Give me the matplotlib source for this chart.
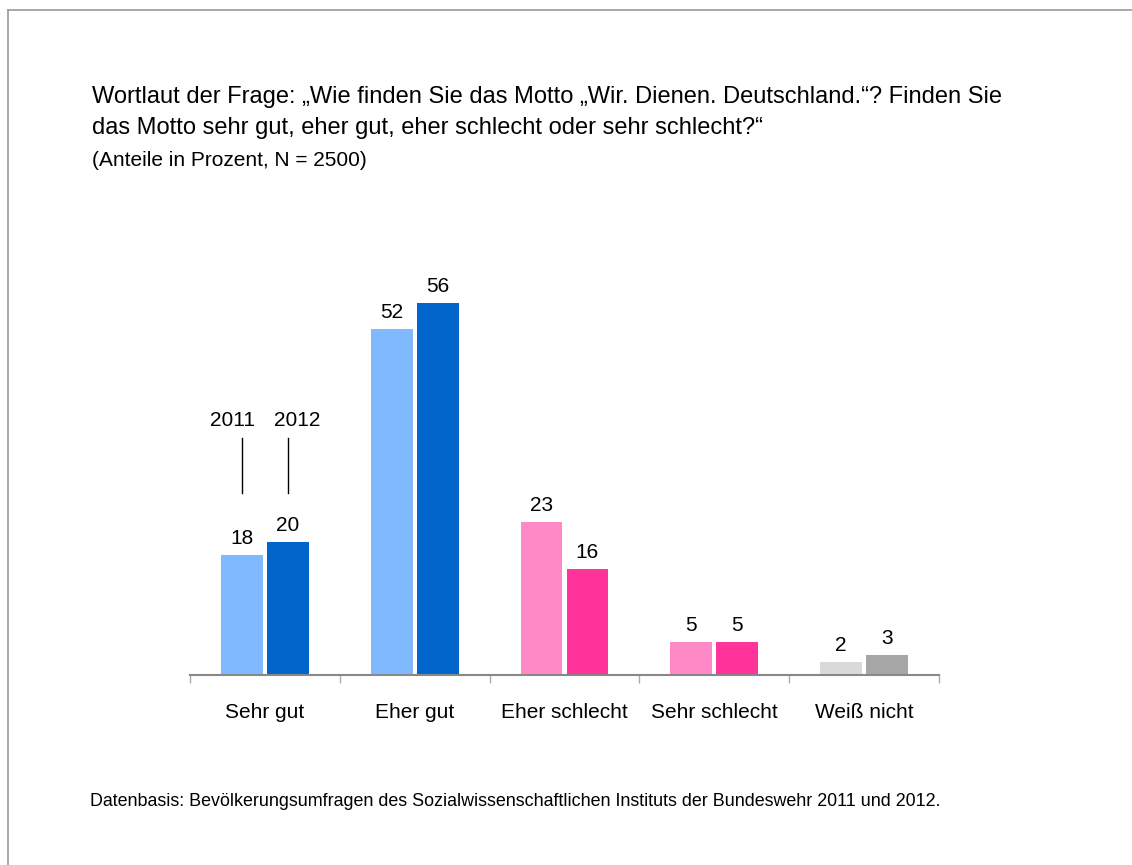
import numpy as np
import matplotlib.pyplot as plt
from matplotlib.lines import Line2D

plt.rcParams['font.family'] = ['Liberation Sans', 'DejaVu Sans']

kategorien = ["Sehr gut", "Eher gut", "Eher schlecht", "Sehr schlecht", "Weiß nicht"]
werte_2011 = [18, 52, 23, 5, 2]
werte_2012 = [20, 56, 16, 5, 3]
farben_2011 = ["#80B9FF", "#80B9FF", "#FF88C6", "#FF88C6", "#D9D9D9"]
farben_2012 = ["#0066CC", "#0066CC", "#FF3399", "#FF3399", "#A6A6A6"]
jahre = ["2011", "2012"]

fig = plt.figure(figsize=(11.32, 8.65), dpi=100)
W, H = 1132, 865
ax = fig.add_axes([190 / W, 1 - 675 / H, (939 - 190) / W, 399 / H])

x = np.arange(len(kategorien))
bw = 0.28
gap = 0.027
off = (bw + gap) / 2
b1 = ax.bar(x - off, werte_2011, width=bw, color=farben_2011)
b2 = ax.bar(x + off, werte_2012, width=bw, color=farben_2012)
for bars, vals in ((b1, werte_2011), (b2, werte_2012)):
    for r, v in zip(bars, vals):
        ax.annotate(str(v), (r.get_x() + r.get_width() / 2, v), xytext=(0, 5),
                    textcoords='offset points', ha='center', va='bottom', fontsize=15)

ax.set_xlim(-0.5, len(kategorien) - 0.5)
ax.set_ylim(0, 60)
for s in ['top', 'right', 'left']:
    ax.spines[s].set_visible(False)
ax.spines['bottom'].set_color('#888888')
ax.spines['bottom'].set_linewidth(1.5)
ax.set_yticks([])
ax.set_xticks(np.arange(-0.5, len(kategorien)), minor=False)
ax.set_xticklabels([])
ax.tick_params(axis='x', length=6, color='#AAAAAA', width=1)
for i, k in enumerate(kategorien):
    ax.text(i, -5.7, k, ha='center', va='center', fontsize=15)

# Jahr-Beschriftung an der ersten Gruppe
for xpos, jahr, dx in zip([-off, off], jahre, [-0.062, 0.064]):
    ax.text(xpos + dx, 38.3, jahr, ha='center', va='center', fontsize=15)
    ax.plot([xpos, xpos], [27.4, 35.6], color='black', lw=1)

fig.text(92 / W, 1 - 97 / H,
         "Wortlaut der Frage: „Wie finden Sie das Motto „Wir. Dienen. Deutschland.“? Finden Sie",
         fontsize=17, va='center', ha='left')
fig.text(92 / W, 1 - 128 / H,
         "das Motto sehr gut, eher gut, eher schlecht oder sehr schlecht?“",
         fontsize=17, va='center', ha='left')
fig.text(92 / W, 1 - 160 / H, "(Anteile in Prozent, N = 2500)",
         fontsize=15, va='center', ha='left')
fig.text(90 / W, 1 - 801 / H,
         "Datenbasis: Bevölkerungsumfragen des Sozialwissenschaftlichen Instituts der Bundeswehr 2011 und 2012.",
         fontsize=12.9, va='center', ha='left')

# Rahmen oben und links
fig.add_artist(Line2D([8 / W, 1], [1 - 10 / H, 1 - 10 / H], color='#999999', lw=1.2))
fig.add_artist(Line2D([8 / W, 8 / W], [0, 1 - 10 / H], color='#999999', lw=1.2))

fig.savefig('out.png', dpi=100)
